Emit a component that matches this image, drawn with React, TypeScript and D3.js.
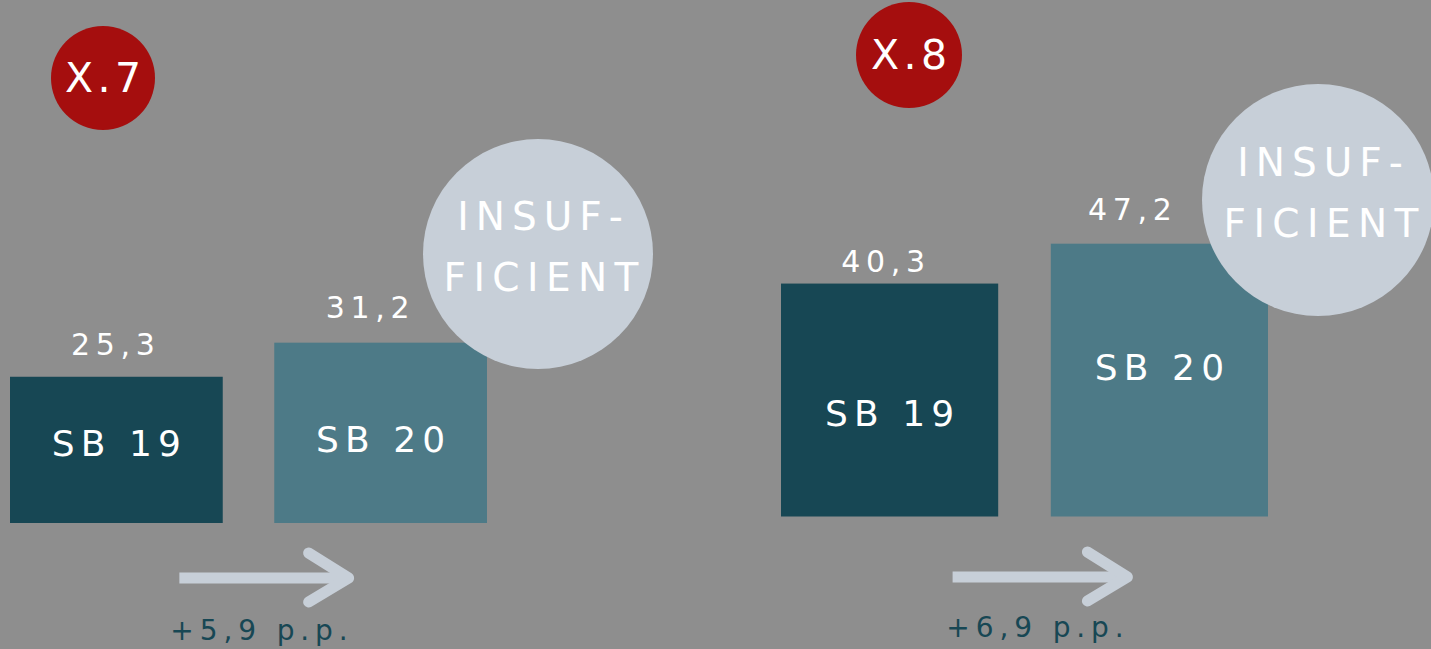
import React from "react";
import * as d3 from "d3";

// ---- data ----
const panelIds = ["X.7", "X.8"];
const categories = ["SB 19", "SB 20"];
const valuesX7 = [25.3, 31.2];
const valuesX8 = [40.3, 47.2];
const verdictLines = ["INSUF-", "FICIENT"];
const seriesValues = [valuesX7, valuesX8];

// ---- layout (positions / styles only) ----
const W = 1431;
const H = 649;
const layout = [
  {
    x0: 10, x1: 487, base: 523,
    badge: [103, 78], badgeR: 52, badgeBase: 92,
    verdict: [538, 254], verdictR: 115,
    arrowY: 578, changeY: 640,
    valueDx: [-3.5, -13], valueDy: [-22, -25],
    labelDy: [6.5, 19.5],
  },
  {
    x0: 781, x1: 1268, base: 516.5,
    badge: [909, 55], badgeR: 53, badgeBase: 69,
    verdict: [1318, 200], verdictR: 116,
    arrowY: 577, changeY: 637,
    valueDx: [-6.5, -29.5], valueDy: [-12, -24],
    labelDy: [25.5, -0.5],
  },
];

const BG = "#8e8e8e";
const RED = "#a50e0e";
const DARK = "#174754";
const MID = "#4d7a87";
const LIGHT = "#c7cfd8";
const FONT = "'DejaVu Sans', 'Open Sans', sans-serif";

const locale = d3.formatLocale({ decimal: ",", thousands: ".", grouping: [3], currency: ["", ""] });
const fmt = locale.format(".1f");

function Txt(props: { x: number; y: number; size: number; ls: number; fill: string; weight?: number; children: string }) {
  const { x, y, size, ls, fill, weight, children } = props;
  const spacing = ls * size;
  return (
    <text
      x={x + spacing / 2}
      y={y}
      textAnchor="middle"
      fontFamily={FONT}
      fontSize={size}
      fontWeight={weight ?? 400}
      letterSpacing={spacing}
      fill={fill}
    >
      {children}
    </text>
  );
}

function Panel({ idx }: { idx: number }) {
  const L = layout[idx];
  const values = seriesValues[idx];
  const x = d3.scaleBand<string>().domain(categories).range([L.x0, L.x1]).paddingInner(0.195).paddingOuter(0);
  const y = d3.scaleLinear().domain([0, 50]).range([L.base, L.base - 289]);
  const bw = x.bandwidth();
  const c0 = (x(categories[0]) ?? 0) + bw / 2;
  const c1 = (x(categories[1]) ?? 0) + bw / 2;
  const ax0 = c0 + 63;
  const ax1 = c1 - 32;
  const ay = L.arrowY;
  const change = values[1] - values[0];
  const colors = [DARK, MID];

  return (
    <g>
      {categories.map((cat, i) => {
        const bx = x(cat) ?? 0;
        const top = y(values[i]);
        const mid = (top + y(0)) / 2;
        return (
          <g key={cat}>
            <rect x={bx} y={top} width={bw} height={y(0) - top} fill={colors[i]} />
            <Txt x={bx + bw / 2} y={mid + L.labelDy[i]} size={36} ls={0.17} fill="#ffffff">
              {cat}
            </Txt>
            <Txt x={bx + bw / 2 + L.valueDx[i]} y={top + L.valueDy[i]} size={30} ls={0.19} fill="#ffffff">
              {fmt(values[i])}
            </Txt>
          </g>
        );
      })}
      {/* verdict circle */}
      <circle cx={L.verdict[0]} cy={L.verdict[1]} r={L.verdictR} fill={LIGHT} />
      <Txt x={L.verdict[0] + 2} y={L.verdict[1] - 24} size={39} ls={0.18} fill="#ffffff">
        {verdictLines[0]}
      </Txt>
      <Txt x={L.verdict[0] + 3} y={L.verdict[1] + 37} size={39} ls={0.19} fill="#ffffff">
        {verdictLines[1]}
      </Txt>
      {/* badge */}
      <circle cx={L.badge[0]} cy={L.badge[1]} r={L.badgeR} fill={RED} />
      <Txt x={L.badge[0]} y={L.badgeBase} size={41} ls={0.11} fill="#ffffff">
        {panelIds[idx]}
      </Txt>
      {/* arrow */}
      <line x1={ax0} y1={ay} x2={ax1 - 3} y2={ay} stroke={LIGHT} strokeWidth={11} />
      <polyline
        points={`${ax1 - 40},${ay - 25} ${ax1},${ay} ${ax1 - 40},${ay + 24}`}
        fill="none"
        stroke={LIGHT}
        strokeWidth={11}
        strokeLinecap="round"
        strokeLinejoin="round"
      />
      <Txt x={(ax0 + ax1) / 2 - 5} y={L.changeY} size={28} ls={0.21} fill={DARK}>
        {`+${fmt(change)} p.p.`}
      </Txt>
    </g>
  );
}

export default function App() {
  return (
    <svg
      width={W}
      height={H}
      viewBox={`0 0 ${W} ${H}`}
      style={{ position: "absolute", left: 0, top: 0, display: "block" }}
    >
      <rect x={0} y={0} width={W} height={H} fill={BG} />
      {panelIds.map((id, i) => (
        <Panel key={id} idx={i} />
      ))}
    </svg>
  );
}
